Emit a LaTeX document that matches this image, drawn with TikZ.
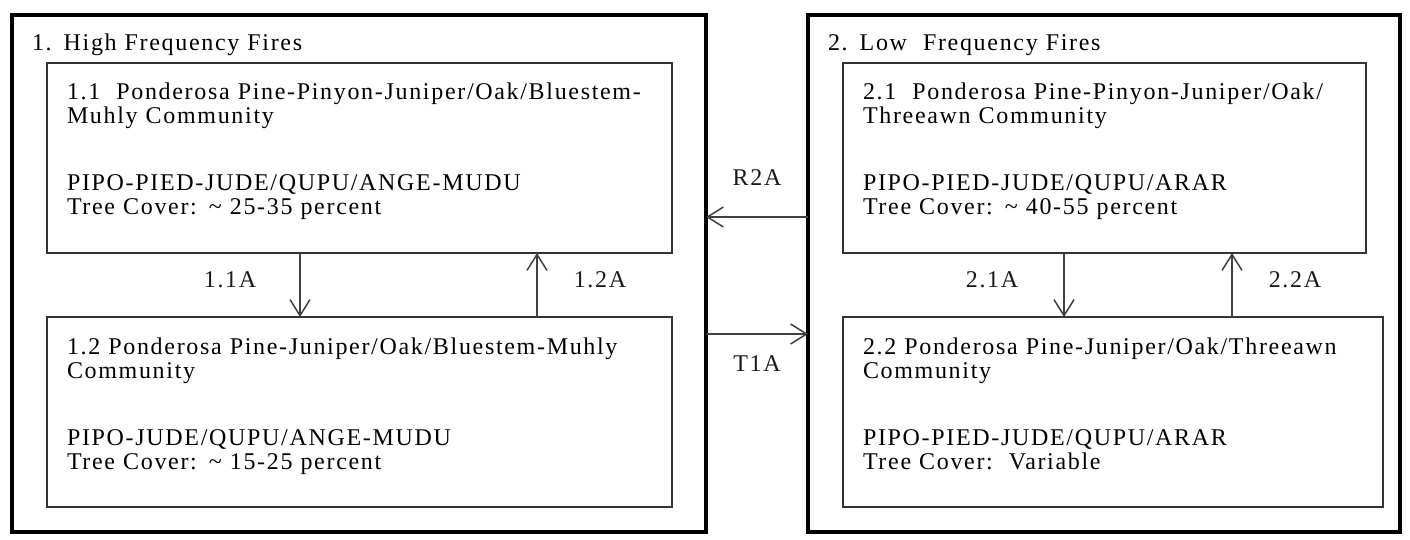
\documentclass[tikz,border=0pt]{standalone}
\usepackage{fontspec}
\setmainfont{Liberation Serif}[LetterSpace=7]
\usetikzlibrary{arrows.meta, positioning}

\begin{document}
\begin{tikzpicture}[
    x=1pt, y=-1pt,
    font=\fontsize{24}{24}\selectfont,
    group/.style={rectangle, draw=black, line width=4pt, outer sep=0pt, anchor=north west, align=left, inner xsep=20pt, inner ysep=0pt, text height=36pt},
    state/.style={rectangle, draw=black!80, line width=1.8pt, outer sep=0pt, anchor=north west, align=left, inner xsep=20pt, inner ysep=0pt, text height=37pt, text depth=153pt},
    arr/.style={-{Straight Barb[length=16pt, width=20pt]}, line width=1.5pt, color=black!75},
    lbl/.style={inner sep=0pt, text=black!90}
]
    \useasboundingbox (0,0) rectangle (1410,540);

    % Fire regimes: high frequency left, low frequency right
    \node[group, text width=654pt, text depth=481pt] (g1) at (12,15) {1. High Frequency Fires};
    \node[group, text width=552pt, text depth=481pt] (g2) at (808,15) {2. Low\ \ Frequency Fires};

    % Community phases
    \node[state, text width=585pt] (s11) at (47,63) {1.1\ \ Ponderosa Pine-Pinyon-Juniper/Oak/Bluestem-\\Muhly Community\\[43pt]PIPO-PIED-JUDE/QUPU/ANGE-MUDU\\Tree Cover: \textasciitilde\ 25-35 percent};
    \node[state, text width=585pt] (s12) at (47,317) {1.2 Ponderosa Pine-Juniper/Oak/Bluestem-Muhly\\Community\\[43pt]PIPO-JUDE/QUPU/ANGE-MUDU\\Tree Cover: \textasciitilde\ 15-25 percent};
    \node[state, text width=483pt] (s21) at (843,63) {2.1\ \ Ponderosa Pine-Pinyon-Juniper/Oak/\\Threeawn Community\\[43pt]PIPO-PIED-JUDE/QUPU/ARAR\\Tree Cover: \textasciitilde\ 40-55 percent};
    \node[state, text width=500pt] (s22) at (843,317) {2.2 Ponderosa Pine-Juniper/Oak/Threeawn\\Community\\[43pt]PIPO-PIED-JUDE/QUPU/ARAR\\Tree Cover:\ \ Variable};

    % Community pathways
    \draw[arr] ([xshift=253pt]s11.south west) -- node[lbl, pos=0.42, left=43pt] (p11) {1.1A} ([xshift=253pt]s12.north west);
    \draw[arr] ([xshift=490pt]s12.north west) -- node[lbl, pos=0.58, right=36pt] (p12) {1.2A} ([xshift=490pt]s11.south west);
    \draw[arr] ([xshift=221pt]s21.south west) -- node[lbl, pos=0.42, left=45pt] (p21) {2.1A} ([xshift=221pt]s22.north west);
    \draw[arr] ([xshift=389pt]s22.north west) -- node[lbl, pos=0.58, right=36pt] (p22) {2.2A} ([xshift=389pt]s21.south west);

    % Transition and restoration
    \draw[arr] ([yshift=-202pt]g2.north west) -- node[lbl, above=31pt] (r2a) {R2A} ([yshift=-202pt]g1.north east);
    \draw[arr] ([yshift=-319pt]g1.north east) -- node[lbl, below=21pt] (t1a) {T1A} ([yshift=-319pt]g2.north west);
\end{tikzpicture}
\end{document}
